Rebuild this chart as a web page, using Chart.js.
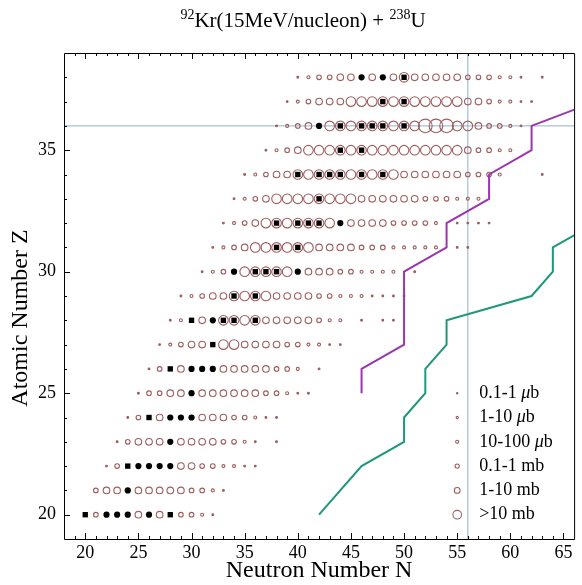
<!DOCTYPE html>
<html><head><meta charset="utf-8">
<script src="https://cdn.jsdelivr.net/npm/chart.js@4.4.1/dist/chart.umd.min.js"></script>
<style>html,body{margin:0;padding:0;background:#fff;}canvas{display:block}</style>
</head><body>
<canvas id="c" width="582" height="585"></canvas>
<script>
// ---- axis ranges ----
const N_MIN = 18, N_MAX = 66, Z_MIN = 19, Z_MAX = 39;
const xTickLabels = [20, 25, 30, 35, 40, 45, 50, 55, 60, 65];
const yTickLabels = [20, 25, 30, 35];

// ---- cross-section class per isotope (0 = none, 1 = 0.1-1 µb ... 6 = largest) ----
const protonNumbers = [20,21,22,23,24,25,26,27,28,29,30,31,32,33,34,35,36,37,38];
const rowFirstN     = [20,21,22,23,24,25,26,27,28,29,31,32,33,34,35,37,38,39,40];
const row20 = [0,3,0,0,0,4,0,4,0,3,3,2,1];
const row21 = [3,4,4,0,4,4,4,4,4,3,3,2,1];
const row22 = [1,3,0,0,0,0,0,4,4,3,3,2,2,1,1];
const row23 = [1,3,4,4,4,0,4,4,4,4,3,3,2,1,0,1];
const row24 = [1,3,0,4,0,0,0,4,4,4,3,3,2,1,1];
const row25 = [1,3,3,4,4,0,4,4,4,4,4,4,3,3,2,1,1];
const row26 = [1,3,0,4,0,0,0,4,4,4,4,4,3,3,2,0,1];
const row27 = [1,2,3,4,4,0,5,5,4,4,4,4,3,3,2,2,1,1];
const row28 = [1,2,0,4,0,5,5,5,5,4,4,4,4,4,3,2,2,0,1,0,1,1];
const row29 = [1,2,3,4,4,5,5,5,5,4,4,4,4,3,3,2,2,2,1,1,1,1];
const row30 = [1,2,3,0,5,5,5,5,5,0,4,4,4,3,3,2,2,2,2,0,1];
const row31 = [1,2,3,4,5,5,5,5,5,5,4,4,4,4,3,3,3,2,2,2,2,2,0,1,1];
const row32 = [1,2,3,4,5,5,5,5,5,5,5,0,4,4,4,4,3,3,3,3,2,0,1,1,1,1];
const row33 = [1,2,3,4,5,5,5,5,5,5,5,5,4,4,4,4,4,4,3,3,3,2,2,2];
const row34 = [1,2,3,4,4,5,5,5,5,5,5,5,5,5,5,4,4,4,4,4,4,3,3,3,2,0,0,0,1];
const row35 = [1,2,3,4,5,5,5,5,5,5,5,5,5,5,5,5,5,5,5,4,3,3,2,2];
const row36 = [1,2,3,4,0,5,5,5,5,5,5,5,5,5,6,6,6,5,5,4,3,3,2,1];
const row37 = [1,2,3,4,4,4,5,5,5,5,5,5,5,5,5,5,5,4,4,3,2,2,1,1];
const row38 = [1,2,3,3,4,4,0,4,0,4,5,4,4,4,4,4,3,3,3,2,2,1,0,1];
const classRows = [row20,row21,row22,row23,row24,row25,row26,row27,row28,row29,row30,row31,row32,row33,row34,row35,row36,row37,row38];

// ---- measured isotopes [N, Z] ----
const measuredSquares = [[20,20],[28,20],[24,22],[26,24],[28,26],[32,27],[30,28],[33,28],[34,28],[36,28],
  [34,29],[36,29],[36,30],[37,30],[38,30],[38,31],[40,31],[38,32],[40,32],[41,32],[42,32],[42,33],
  [40,34],[42,34],[43,34],[44,34],[46,34],[48,34],[44,35],[46,35],[44,36],[46,36],[47,36],[48,36],[50,36],
  [48,37],[50,37],[50,38]];
const measuredCircles = [[22,20],[23,20],[24,20],[26,20],[24,21],[25,22],[26,22],[27,22],[28,22],[28,23],
  [28,24],[29,24],[30,24],[30,25],[30,26],[31,26],[32,26],[32,28],[34,30],[40,30],[44,32],[42,36],[46,38],[48,38]];

// ---- lines ----
const purpleN = [46,46,50,50,54,54,58,58,62,62,68];
const purpleZ = [25,26,27,30,31,32,33,34,35,36,37];
const greenN  = [42,46,50,50,52,52,54,54,62,64,64,68];
const greenZ  = [20,22,23,24,25,26,27,28,29,30,31,32];
const projectileZ = 36, projectileN = 56;

// ---- legend ----
const legendLabels = ['0.1-1 μb','1-10 μb','10-100 μb','0.1-1 mb','1-10 mb','>10 mb'];
const legendZ = [25,24,23,22,21,20];
const legendN = 55;
const legendRadius = [0.7,1.1,1.6,2.1,2.9,4.3];
const classRadius = [0,0.9,1.5,2.3,3.3,4.8,6.8];

const titleParts = ['92','Kr(15MeV/nucleon) + ','238','U'];

// ---- build datasets ----
const openPts = [];
classRows.forEach((row, i) => {
  row.forEach((c, j) => { if (c > 0) openPts.push({x: rowFirstN[i] + j, y: protonNumbers[i], c}); });
});
const CIRC = '#9e5e5e';
const SERIF = '"Liberation Serif", "DejaVu Serif", serif';

const decor = {
  id: 'decor',
  afterDraw(chart) {
    const {ctx, chartArea: a, scales: {x, y}} = chart;
    ctx.save();
    ctx.strokeStyle = '#000'; ctx.lineWidth = 1;
    ctx.beginPath();
    ctx.rect(a.left + 0.5, a.top + 0.5, a.right - a.left, a.bottom - a.top);
    ctx.stroke();
    ctx.beginPath();
    for (let n = N_MIN + 1; n < N_MAX; n++) {
      const px = Math.round(x.getPixelForValue(n)) + 0.5;
      const len = n % 5 === 0 ? 6 : 3;
      ctx.moveTo(px, a.bottom); ctx.lineTo(px, a.bottom - len);
      ctx.moveTo(px, a.top); ctx.lineTo(px, a.top + len);
    }
    for (let z = Z_MIN + 1; z < Z_MAX; z++) {
      const py = Math.round(y.getPixelForValue(z)) + 0.5;
      const len = z % 5 === 0 ? 6 : 3;
      ctx.moveTo(a.left, py); ctx.lineTo(a.left + len, py);
    }
    ctx.stroke();
    // legend labels
    ctx.fillStyle = '#000';
    ctx.textBaseline = 'middle';
    ctx.textAlign = 'left';
    legendLabels.forEach((lab, i) => {
      let px = x.getPixelForValue(legendN) + 22;
      const py = y.getPixelForValue(legendZ[i]);
      const parts = lab.split('μ');
      ctx.font = '18px ' + SERIF;
      ctx.fillText(parts[0], px, py);
      px += ctx.measureText(parts[0]).width;
      if (parts.length > 1) {
        ctx.font = 'italic 18px ' + SERIF;
        ctx.fillText('μ', px, py);
        px += ctx.measureText('μ').width;
        ctx.font = '18px ' + SERIF;
        ctx.fillText(parts[1], px, py);
      }
    });
    // title with superscripts
    const mainF = '21px ' + SERIF, supF = '14px ' + SERIF;
    let w = 0;
    titleParts.forEach((t, i) => { ctx.font = i % 2 === 0 ? supF : mainF; w += ctx.measureText(t).width; });
    let tx = 303 - w / 2;
    ctx.textBaseline = 'alphabetic';
    titleParts.forEach((t, i) => {
      const sup = i % 2 === 0;
      ctx.font = sup ? supF : mainF;
      ctx.fillText(t, tx, sup ? 19 : 27);
      tx += ctx.measureText(t).width;
    });
    // y title
    ctx.save();
    ctx.translate(21, 318);
    ctx.rotate(-Math.PI / 2);
    ctx.textAlign = 'center';
    ctx.textBaseline = 'middle';
    ctx.font = '24px ' + SERIF;
    ctx.fillText('Atomic Number Z', 0, 0);
    ctx.restore();
    ctx.restore();
  }
};

new Chart(document.getElementById('c'), {
  type: 'scatter',
  data: {
    datasets: [
      { label: 'squares', order: 1, data: measuredSquares.map(p => ({x: p[0], y: p[1]})),
        pointStyle: 'rect', pointRadius: 3.8, backgroundColor: '#000', borderColor: '#000', borderWidth: 0 },
      { label: 'circles', order: 2, data: measuredCircles.map(p => ({x: p[0], y: p[1]})),
        pointStyle: 'circle', pointRadius: 3.1, backgroundColor: '#000', borderColor: '#000', borderWidth: 0 },
      { label: 'purple', order: 3, type: 'line', data: purpleN.map((n, i) => ({x: n, y: purpleZ[i]})),
        borderColor: '#9a36ae', borderWidth: 2, pointRadius: 0, fill: false, tension: 0 },
      { label: 'green', order: 3, type: 'line', data: greenN.map((n, i) => ({x: n, y: greenZ[i]})),
        borderColor: '#1f977a', borderWidth: 2, pointRadius: 0, fill: false, tension: 0 },
      { label: 'cross sections', order: 4, data: openPts,
        pointStyle: 'circle',
        pointRadius: c => classRadius[c.raw.c],
        borderColor: CIRC, borderWidth: 1.1,
        backgroundColor: c => c.raw.c <= 1 ? CIRC : 'rgba(0,0,0,0)' },
      { label: 'legend', order: 5, data: legendZ.map(z => ({x: legendN, y: z})),
        pointStyle: 'circle', pointRadius: legendRadius, borderColor: CIRC, borderWidth: 1.1,
        backgroundColor: legendRadius.map(r => r < 0.9 ? CIRC : 'rgba(0,0,0,0)') },
      { label: 'Zref', order: 6, type: 'line', data: [{x: N_MIN, y: projectileZ}, {x: N_MAX, y: projectileZ}],
        borderColor: '#8fb2c9', borderWidth: 1, pointRadius: 0 },
      { label: 'Nref', order: 6, type: 'line', data: [{x: projectileN, y: Z_MIN}, {x: projectileN, y: Z_MAX}],
        borderColor: '#8fb2c9', borderWidth: 1, pointRadius: 0 }
    ]
  },
  options: {
    responsive: false, devicePixelRatio: 1, animation: false, events: [],
    layout: { padding: { top: 53, right: 0, bottom: 0, left: 0 } },
    plugins: { legend: { display: false }, tooltip: { enabled: false }, title: { display: false } },
    scales: {
      x: {
        type: 'linear', min: N_MIN, max: N_MAX,
        afterFit: s => { s.height = 46; },
        afterBuildTicks: s => { s.ticks = xTickLabels.map(v => ({value: v})); },
        ticks: { autoSkip: false, maxRotation: 0, padding: 3, color: '#000', font: { family: SERIF, size: 18 } },
        grid: { display: false, drawTicks: false },
        border: { display: false },
        title: { display: true, text: 'Neutron Number N', color: '#000', font: { family: SERIF, size: 24 }, padding: { top: 0, bottom: 0 } }
      },
      y: {
        type: 'linear', min: Z_MIN, max: Z_MAX,
        afterFit: s => { s.width = 64; },
        afterBuildTicks: s => { s.ticks = yTickLabels.map(v => ({value: v})); },
        ticks: { autoSkip: false, padding: 8, color: '#000', font: { family: SERIF, size: 18 } },
        grid: { display: false, drawTicks: false },
        border: { display: false }
      }
    }
  },
  plugins: [decor]
});
</script>
</body></html>
